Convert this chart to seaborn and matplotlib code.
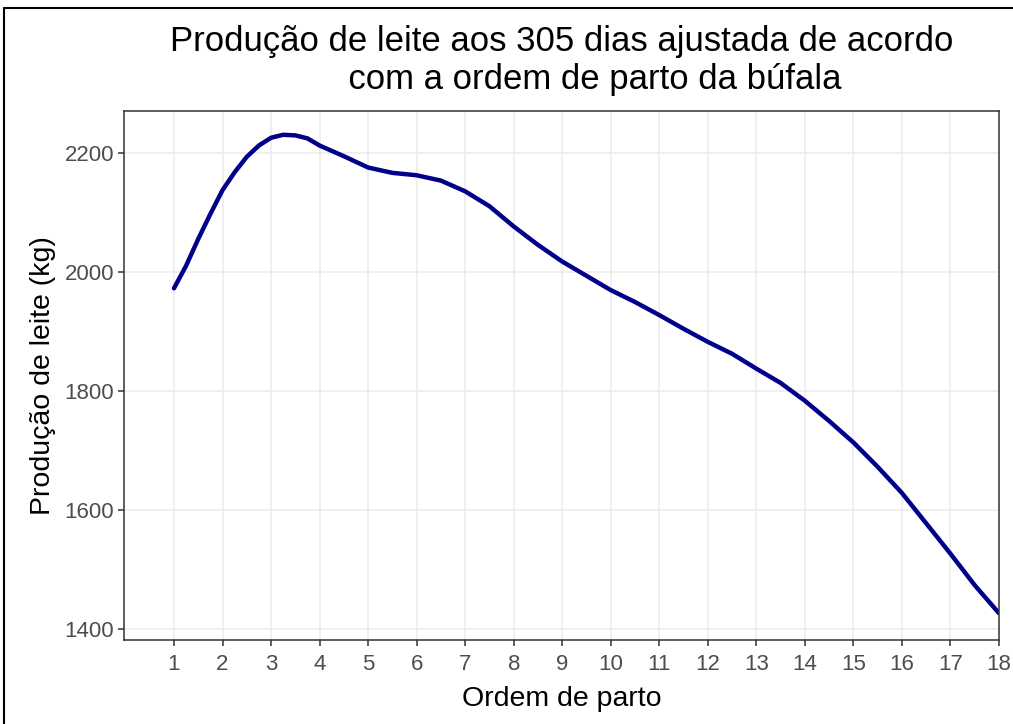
import matplotlib
matplotlib.use("Agg")
import matplotlib.pyplot as plt
from matplotlib.lines import Line2D
import pandas as pd
import seaborn as sns

# valores (ordem de parto x produção ajustada)
ordem = [1, 1.25, 1.5, 1.75, 2, 2.25, 2.5, 2.75, 3, 3.25, 3.5, 3.75, 4, 4.5, 5, 5.5, 6,
         6.5, 7, 7.5, 8, 8.5, 9, 9.5, 10, 10.5, 11, 11.5, 12, 12.5, 13, 13.5,
         14, 14.5, 15, 15.5, 16, 16.5, 17, 17.5, 18]
producao = [1972, 2010, 2055, 2097, 2137, 2167, 2193, 2212, 2225, 2230, 2229, 2224, 2212,
            2194, 2175, 2166, 2162, 2153, 2135, 2110, 2076, 2045, 2017, 1993, 1969,
            1949, 1927, 1904, 1882, 1862, 1837, 1813, 1783, 1749, 1713, 1672, 1628,
            1577, 1526, 1473, 1426]
x_ticks = list(range(1, 19))
y_ticks = [1400, 1600, 1800, 2000, 2200]

df = pd.DataFrame({"ordem": ordem, "producao": producao})

sns.set_style("white")
plt.rcParams["font.family"] = ["Liberation Sans", "DejaVu Sans"]

fig = plt.figure(figsize=(10.13, 7.24), dpi=100)
ax = fig.add_axes([0.1224, 0.116, 0.8638, 0.7307])

sns.lineplot(x="ordem", y="producao", data=df, color="#00008B", linewidth=3.2, ax=ax)

ax.set_xlim(-0.03, 18)
ax.set_ylim(1381, 2270)
ax.set_xticks(x_ticks)
ax.set_yticks(y_ticks)
ax.grid(True, color="#EBEBEB", linewidth=1.1)
ax.set_axisbelow(True)
for s in ax.spines.values():
    s.set_color("#333333")
    s.set_linewidth(1.1)
ax.tick_params(axis="both", direction="out", length=4, width=1.1, color="#333333",
               labelsize=16, labelcolor="#4D4D4D", pad=3,
               bottom=True, left=True)
ax.tick_params(axis="x", pad=6)

ax.set_xlabel("Ordem de parto", fontsize=20.5, color="black", labelpad=8)
ax.set_ylabel("Produção de leite (kg)", fontsize=20.5, color="black", labelpad=6)
ax.set_title("Produção de leite aos 305 dias ajustada de acordo\n       com a ordem de parto da búfala",
             fontsize=25, color="black", pad=16)

# moldura da captura
fig.add_artist(Line2D([4 / 1013, 1], [1 - 8 / 724, 1 - 8 / 724], color="black", linewidth=1.5,
                      transform=fig.transFigure))
fig.add_artist(Line2D([4 / 1013, 4 / 1013], [0, 1 - 8 / 724], color="black", linewidth=1.5,
                      transform=fig.transFigure))

plt.savefig("out.png", dpi=100)
